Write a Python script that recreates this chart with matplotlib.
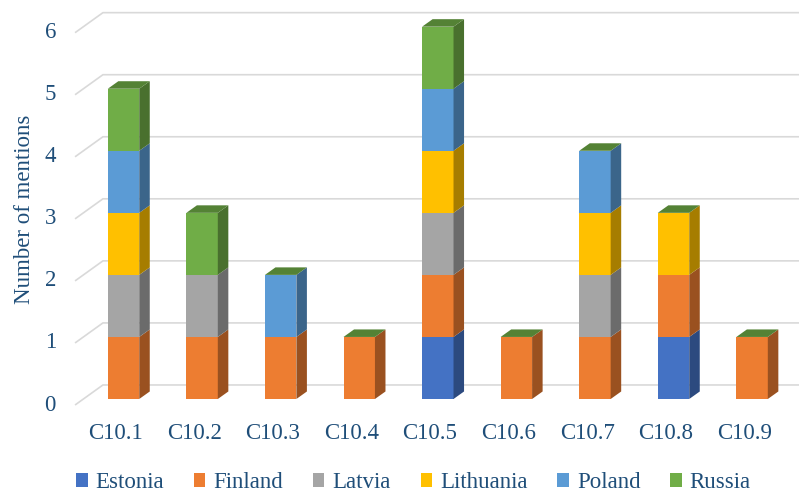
import numpy as np
import matplotlib
matplotlib.use("Agg")
import matplotlib.pyplot as plt
from matplotlib.patches import Polygon
from matplotlib.colors import to_rgb

# ---- DATA ----
categories = ["C10.1", "C10.2", "C10.3", "C10.4", "C10.5",
              "C10.6", "C10.7", "C10.8", "C10.9"]
countries = ["Estonia", "Finland", "Latvia", "Lithuania", "Poland", "Russia"]
estonia = [0, 0, 0, 0, 1, 0, 0, 1, 0]
finland = [1, 1, 1, 1, 1, 1, 1, 1, 1]
latvia = [1, 1, 0, 0, 1, 0, 1, 0, 0]
lithuania = [1, 0, 0, 0, 1, 0, 1, 1, 0]
poland = [1, 0, 1, 0, 1, 0, 1, 0, 0]
russia = [1, 1, 0, 0, 1, 0, 0, 0, 0]
y_ticks = [0, 1, 2, 3, 4, 5, 6]

# ---- STYLE ----
COLORS = ["#4472C4", "#ED7D31", "#A5A5A5", "#FFC000", "#5B9BD5", "#70AD47"]
TEXT_COLOR = "#1F4E79"
GRID_COLOR = "#D9D9D9"
FONT = "Liberation Serif"
FS = 16.5
BAR_WIDTH = 0.40
DEPTH_X, DEPTH_Y = 0.134, 0.121      # bar depth (data units)
BACK_X, BACK_Y = -0.262, 0.226       # back wall offset for gridlines
FRONT_X, FRONT_Y = -0.617, -0.097    # front edge of the floor


def shade(color, k):
    r, g, b = to_rgb(color)
    return (r * k, g * k, b * k)


series = [estonia, finland, latvia, lithuania, poland, russia]

fig = plt.figure(figsize=(7.99, 4.93), dpi=100)
ax = fig.add_axes([0, 0, 1, 1])
ax.set_xlim(-1.572, 8.597)
ax.set_ylim(-1.515, 6.430)
ax.axis("off")

# gridlines: diagonal on the side wall, then flat along the back wall
for v in y_ticks:
    ax.plot([FRONT_X, BACK_X, 9.0], [v + FRONT_Y, v + BACK_Y, v + BACK_Y],
            color=GRID_COLOR, linewidth=1.2, zorder=0, solid_capstyle="butt")
    ax.text(-0.86, v + FRONT_Y, str(v), ha="right", va="center",
            fontsize=FS, color=TEXT_COLOR, family=FONT)

x = np.arange(len(categories))
bottoms = np.zeros(len(categories))
handles = []
for name, vals, col in zip(countries, series, COLORS):
    vals = np.array(vals, dtype=float)
    h = ax.bar(x, vals, BAR_WIDTH, bottom=bottoms, color=col,
               label=name, zorder=2, linewidth=0)
    handles.append(h)
    side = shade(col, 0.65)
    for xi, b, v in zip(x, bottoms, vals):
        if v <= 0:
            continue
        xr = xi + BAR_WIDTH / 2
        ax.add_patch(Polygon([(xr, b), (xr + DEPTH_X, b + DEPTH_Y),
                              (xr + DEPTH_X, b + v + DEPTH_Y), (xr, b + v)],
                             closed=True, facecolor=side, linewidth=0,
                             zorder=2))
    bottoms = bottoms + vals

# top face of each stack (last series colour)
top_col = shade(COLORS[-1], 0.75)
for xi, t in zip(x, bottoms):
    xl, xr = xi - BAR_WIDTH / 2, xi + BAR_WIDTH / 2
    ax.add_patch(Polygon([(xl, t), (xl + DEPTH_X, t + DEPTH_Y),
                          (xr + DEPTH_X, t + DEPTH_Y), (xr, t)],
                         closed=True, facecolor=top_col, linewidth=0,
                         zorder=3))

# category labels
for xi, cat in zip(x, categories):
    ax.text(xi - 0.1, -0.564, cat, ha="center", va="center",
            fontsize=FS, color=TEXT_COLOR, family=FONT)

ax.text(-1.266, 3.062, "Number of mentions", rotation=90, ha="center",
        va="center", fontsize=FS, color=TEXT_COLOR, family=FONT)

leg = fig.legend(handles, countries, loc="center", ncol=6,
                 bbox_to_anchor=(0.5175, 0.021), frameon=False,
                 handlelength=0.5, handleheight=0.5, handletextpad=0.35,
                 columnspacing=1.3, borderpad=0.2,
                 prop={"family": FONT, "size": FS})
for t in leg.get_texts():
    t.set_color(TEXT_COLOR)

fig.savefig("out.png", dpi=100)
